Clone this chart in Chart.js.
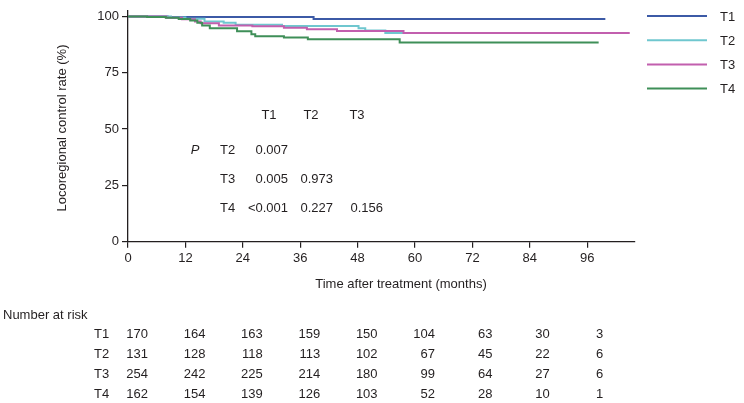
<!DOCTYPE html>
<html>
<head>
<meta charset="utf-8">
<script src="https://cdn.jsdelivr.net/npm/chart.js@4.4.0/dist/chart.umd.min.js"></script>
<style>
  body { margin: 0; background: #fff; }
  #wrap { width: 744px; height: 403px; position: relative; }
</style>
</head>
<body>
<div id="wrap"><canvas id="kmChart"></canvas></div>
<script>
// kaplan-meier steps (months, %)
var t1Months = [0, 8.3, 38.8, 99.8];
var t1Rate   = [100, 99.7, 98.9, 98.9];
var t2Months = [0, 9, 12, 16, 20, 22.5, 32.2, 48.2, 49.6, 53.8, 104.5];
var t2Rate   = [100, 99.5, 99.0, 97.8, 97.2, 96.3, 95.7, 94.8, 93.8, 92.6, 92.6];
var t3Months = [0, 8, 11.3, 14, 15.2, 19, 26, 32.6, 37.4, 43.7, 57.6, 104.9];
var t3Rate   = [100, 99.4, 98.7, 97.8, 97.0, 96.0, 95.6, 95.0, 94.3, 93.5, 92.6, 92.6];
var t4Months = [0, 4, 7.9, 10.6, 13, 14.5, 15.5, 17.1, 22.8, 25.8, 26.6, 32.6, 37.6, 56.8, 98.4];
var t4Rate   = [100, 99.8, 99.4, 98.9, 98.2, 97.2, 96.0, 94.8, 93.4, 92.1, 91.2, 90.6, 89.9, 88.4, 88.4];

var groups = ['T1', 'T2', 'T3', 'T4'];
var xTicks = [0, 12, 24, 36, 48, 60, 72, 84, 96];
var yTicks = [0, 25, 50, 75, 100];

// pairwise log-rank p values
var pCols = ['T1', 'T2', 'T3'];
var pRows = ['T2', 'T3', 'T4'];
var pT2 = ['0.007'];
var pT3 = ['0.005', '0.973'];
var pT4 = ['<0.001', '0.227', '0.156'];

// number at risk at each x tick
var riskT1 = [170, 164, 163, 159, 150, 104, 63, 30, 3];
var riskT2 = [131, 128, 118, 113, 102, 67, 45, 22, 6];
var riskT3 = [254, 242, 225, 214, 180, 99, 64, 27, 6];
var riskT4 = [162, 154, 139, 126, 103, 52, 28, 10, 1];

var colors = ['#3c5aa6', '#6fc7cf', '#c25fae', '#3f8f58'];
var FONT = '13px "Liberation Sans", Arial, sans-serif';
var INK = '#231f20';

function toPoints(xs, ys) {
  return xs.map(function (x, i) { return { x: x, y: ys[i] }; });
}

var extraText = {
  id: 'extraText',
  afterDraw: function (chart) {
    var ctx = chart.ctx;
    var xs = chart.scales.x;
    ctx.save();
    ctx.font = FONT;
    ctx.fillStyle = INK;
    ctx.textBaseline = 'middle';

    // axis titles
    ctx.save();
    ctx.translate(62, 128);
    ctx.rotate(-Math.PI / 2);
    ctx.textAlign = 'center';
    ctx.fillText('Locoregional control rate (%)', 0, 0);
    ctx.restore();
    ctx.textAlign = 'center';
    ctx.fillText('Time after treatment (months)', 401, 284);

    // legend
    chart.data.datasets.forEach(function (ds, i) {
      var y = 16 + i * 24.2;
      ctx.strokeStyle = ds.borderColor;
      ctx.lineWidth = 2;
      ctx.beginPath();
      ctx.moveTo(647, y);
      ctx.lineTo(707, y);
      ctx.stroke();
      ctx.textAlign = 'left';
      ctx.fillText(ds.label, 720, y + 1);
    });

    // p value table
    var headX = [269, 311, 357];
    var valRight = [288, 333, 383];
    var rowY = [150, 179, 208];
    ctx.textAlign = 'center';
    pCols.forEach(function (c, i) { ctx.fillText(c, headX[i], 115); });
    ctx.save();
    ctx.font = 'italic ' + FONT;
    ctx.fillText('P', 195, 150);
    ctx.restore();
    var pVals = [pT2, pT3, pT4];
    pRows.forEach(function (r, i) {
      ctx.textAlign = 'left';
      ctx.fillText(r, 220, rowY[i]);
      ctx.textAlign = 'right';
      pVals[i].forEach(function (v, j) { ctx.fillText(v, valRight[j], rowY[i]); });
    });

    // number at risk
    ctx.textAlign = 'left';
    ctx.fillText('Number at risk', 3, 315);
    var risk = [riskT1, riskT2, riskT3, riskT4];
    groups.forEach(function (g, i) {
      var y = 334 + i * 20.3;
      ctx.textAlign = 'left';
      ctx.fillText(g, 94, y);
      ctx.textAlign = 'right';
      risk[i].forEach(function (n, j) {
        var off = j === xTicks.length - 1 ? 16 : 20;
        ctx.fillText(String(n), xs.getPixelForValue(xTicks[j]) + off, y);
      });
    });
    ctx.restore();
  }
};

var ctx = document.getElementById('kmChart').getContext('2d');
var chartKM = new Chart(ctx, {
  type: 'line',
  data: {
    datasets: [
      { label: groups[0], data: toPoints(t1Months, t1Rate), borderColor: colors[0], order: 3 },
      { label: groups[1], data: toPoints(t2Months, t2Rate), borderColor: colors[1], order: 2 },
      { label: groups[2], data: toPoints(t3Months, t3Rate), borderColor: colors[2], order: 1 },
      { label: groups[3], data: toPoints(t4Months, t4Rate), borderColor: colors[3], order: 0 }
    ]
  },
  options: {
    responsive: true,
    maintainAspectRatio: false,
    animation: false,
    layout: { padding: { left: 0, right: 109, top: 9, bottom: 0 } },
    elements: {
      line: { stepped: true, borderWidth: 2, fill: false, tension: 0 },
      point: { radius: 0 }
    },
    plugins: {
      legend: { display: false },
      tooltip: { enabled: false }
    },
    scales: {
      x: {
        type: 'linear',
        min: 0,
        max: 106,
        afterBuildTicks: function (axis) { axis.ticks = xTicks.map(function (v) { return { value: v }; }); },
        afterFit: function (axis) { axis.height = 161.3; },
        grid: { drawOnChartArea: false, drawTicks: true, tickLength: 6, color: INK, lineWidth: 1.2 },
        border: { display: true, color: INK, width: 1.3 },
        ticks: { color: INK, font: { family: '"Liberation Sans", Arial, sans-serif', size: 13 }, padding: 3, maxRotation: 0 }
      },
      y: {
        min: 0,
        max: 102.5,
        afterBuildTicks: function (axis) { axis.ticks = yTicks.map(function (v) { return { value: v }; }); },
        afterFit: function (axis) { axis.width = 128; },
        grid: { drawOnChartArea: false, drawTicks: true, tickLength: 6, color: INK, lineWidth: 1.2 },
        border: { display: true, color: INK, width: 1.3 },
        ticks: { color: INK, font: { family: '"Liberation Sans", Arial, sans-serif', size: 13 }, padding: 3 }
      }
    }
  },
  plugins: [extraText]
});
</script>
</body>
</html>
